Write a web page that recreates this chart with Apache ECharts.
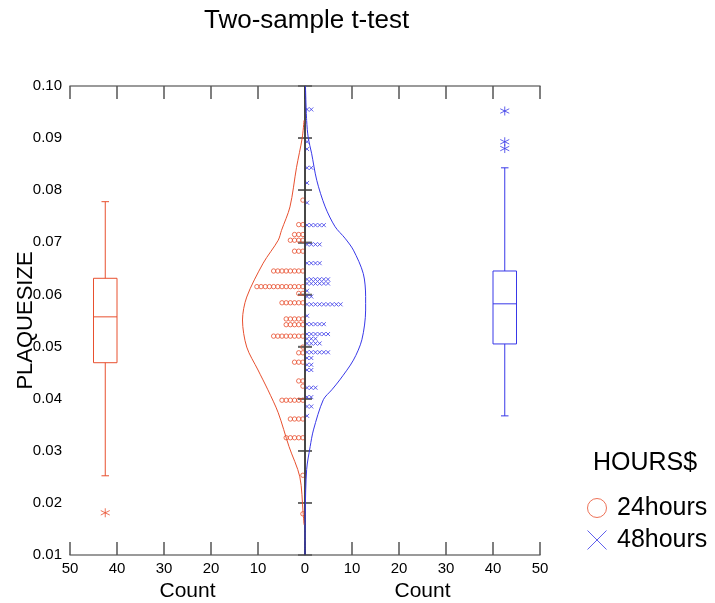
<!DOCTYPE html>
<html>
<head>
<meta charset="utf-8">
<title>Two-sample t-test</title>
<script src="https://cdn.jsdelivr.net/npm/echarts@6/dist/echarts.min.js"></script>
<style>
    html, body { margin: 0; padding: 0; background: #fff; }
    #main { width: 715px; height: 603px; }
</style>
</head>
<body>
<div id="main"></div>
<script>
// dot rows: [plaque size, number of dots]
var rows24 = [
    [0.0781, 1], [0.0734, 2], [0.0715, 3], [0.0704, 4], [0.0683, 3],
    [0.0645, 8], [0.0615, 12], [0.0602, 2], [0.0584, 6], [0.0553, 5],
    [0.0542, 5], [0.0520, 8], [0.0499, 1], [0.0488, 2], [0.0470, 3],
    [0.0434, 2], [0.0424, 1], [0.0397, 6], [0.0361, 4], [0.0325, 5],
    [0.0253, 1], [0.0179, 1]
];
var rows48 = [
    [0.0955, 2], [0.0893, 1], [0.0879, 1], [0.0843, 2], [0.0814, 1],
    [0.0776, 1], [0.0733, 5], [0.0696, 4], [0.0660, 4], [0.0629, 6],
    [0.0621, 6], [0.0607, 1], [0.0596, 2], [0.0581, 9], [0.0559, 1],
    [0.0543, 5], [0.0524, 6], [0.0515, 3], [0.0506, 4], [0.0489, 6],
    [0.0478, 2], [0.0465, 2], [0.0455, 2], [0.0421, 3], [0.0403, 2],
    [0.0385, 2], [0.0367, 1]
];
// density curves: [plaque size, count]
var curve24 = [
    [0.0934, 0.2], [0.0900, 0.6], [0.0844, 1.8], [0.0768, 3.2], [0.0723, 5.0],
    [0.0704, 5.7], [0.0660, 8.9], [0.0595, 12.4], [0.0551, 13.3], [0.0499, 12.4],
    [0.0455, 10.0], [0.0417, 7.9], [0.0373, 5.7], [0.0308, 3.4], [0.0250, 1.1],
    [0.0181, 0.4], [0.0158, 0.2]
];
var curve48 = [
    [0.1000, 0.1], [0.0934, 0.35], [0.0900, 0.7], [0.0871, 1.4], [0.0819, 2.5],
    [0.0768, 4.3], [0.0730, 6.4], [0.0708, 8.5], [0.0685, 10.3], [0.0640, 12.4],
    [0.0596, 12.9], [0.0570, 12.9], [0.0513, 12.1], [0.0474, 10.3], [0.0436, 7.4],
    [0.0417, 5.7], [0.0398, 3.9], [0.0340, 1.8], [0.0308, 1.1], [0.0264, 0.35],
    [0.0181, 0.05], [0.0101, 0]
];
// box plots: [min, q1, median, q3, max] and outside values
var box24 = [0.0252, 0.0469, 0.0557, 0.0631, 0.0778];
var box48 = [0.0367, 0.0505, 0.0582, 0.0645, 0.0843];
var out24 = [0.0181];
var out48 = [0.0952, 0.0893, 0.0880];
var boxPos = 42.5;
var centerTicks = [0.02, 0.03, 0.04, 0.05, 0.06, 0.07, 0.08, 0.09];

var RED = '#e8502f', BLUE = '#3838e8';
var FONT = '"Liberation Sans", Arial, sans-serif';
var dotW = 0.89;
var STAR = 'path://M5,0L5,10M0.7,2.5L9.3,7.5M0.7,7.5L9.3,2.5';
var CROSS = 'path://M0,0L10,10M10,0L0,10';

function each(arr, fn) { for (var i = 0; i < arr.length; i++) fn(arr[i], i); }

function dots(rows, side) {
    var out = [];
    each(rows, function (r) {
        for (var i = 0; i < r[1]; i++) {
            out.push([side * (i + 0.5) * dotW, r[0]]);
        }
    });
    return out;
}

function boxRender(color) {
    return function (params, api) {
        var x = api.value(0);
        var l = api.coord([x - 2.5, api.value(2)])[0];
        var r = api.coord([x + 2.5, api.value(2)])[0];
        var cl = api.coord([x - 0.8, 0])[0];
        var cr = api.coord([x + 0.8, 0])[0];
        var cx = api.coord([x, 0])[0];
        var yMin = api.coord([x, api.value(1)])[1];
        var yQ1 = api.coord([x, api.value(2)])[1];
        var yMed = api.coord([x, api.value(3)])[1];
        var yQ3 = api.coord([x, api.value(4)])[1];
        var yMax = api.coord([x, api.value(5)])[1];
        var st = {stroke: color, lineWidth: 1, fill: null};
        return {
            type: 'group',
            children: [
                {type: 'rect', shape: {x: l, y: yQ3, width: r - l, height: yQ1 - yQ3}, style: st},
                {type: 'line', shape: {x1: l, y1: yMed, x2: r, y2: yMed}, style: st},
                {type: 'line', shape: {x1: cx, y1: yQ3, x2: cx, y2: yMax}, style: st},
                {type: 'line', shape: {x1: cx, y1: yQ1, x2: cx, y2: yMin}, style: st},
                {type: 'line', shape: {x1: cl, y1: yMax, x2: cr, y2: yMax}, style: st},
                {type: 'line', shape: {x1: cl, y1: yMin, x2: cr, y2: yMin}, style: st}
            ]
        };
    };
}

var axisLine = {show: true, lineStyle: {color: '#7a7a7a', width: 1.5}};
var xTick = {show: true, inside: true, length: 13, lineStyle: {color: '#555', width: 1.5}};
var yTick = {show: true, inside: true, length: 7, lineStyle: {color: '#555', width: 1.5}};

var myChart = echarts.init(document.getElementById('main'), null, {renderer: 'canvas'});

var option = {
    backgroundColor: '#fff',
    animation: false,
    title: {
        text: 'Two-sample t-test',
        left: 199, top: 3,
        textStyle: {fontSize: 26, fontWeight: 'normal', fontFamily: FONT, color: '#000'}
    },
    legend: {
        orient: 'vertical', left: 582, top: 490,
        itemWidth: 30, itemHeight: 19, itemGap: 6,
        textStyle: {fontSize: 25, lineHeight: 26, fontFamily: FONT, color: '#000'},
        data: [
            {name: '24hours', icon: 'circle', itemStyle: {color: 'transparent', borderColor: RED, borderWidth: 1}},
            {name: '48hours', icon: CROSS, itemStyle: {color: 'transparent', borderColor: BLUE, borderWidth: 1}}
        ]
    },
    grid: {left: 70, right: 175, top: 86, bottom: 48, containLabel: false, outerBoundsMode: 'none'},
    xAxis: [
        {
            type: 'value', min: -50, max: 50, interval: 10, position: 'bottom',
            axisLine: axisLine, axisTick: xTick, splitLine: {show: false},
            axisLabel: {
                fontSize: 15, fontFamily: FONT, color: '#000', margin: 6,
                formatter: function (v) { return Math.abs(v); }
            }
        },
        {
            type: 'value', min: -50, max: 50, interval: 10, position: 'top',
            axisLine: axisLine, axisTick: xTick, splitLine: {show: false},
            axisLabel: {show: false}
        }
    ],
    yAxis: [
        {
            type: 'value', min: 0.01, max: 0.10, interval: 0.01, position: 'left',
            axisLine: axisLine, axisTick: yTick, splitLine: {show: false},
            name: 'PLAQUESIZE', nameLocation: 'middle', nameGap: 33, nameMoveOverlap: false,
            nameTextStyle: {fontSize: 22, fontFamily: FONT, color: '#000'},
            axisLabel: {
                fontSize: 15, fontFamily: FONT, color: '#000', margin: 8,
                formatter: function (v) { return v.toFixed(2); }
            }
        },
        {
            type: 'value', min: 0.01, max: 0.10, interval: 0.01, position: 'right',
            axisLine: axisLine, axisTick: yTick, splitLine: {show: false},
            axisLabel: {show: false}
        }
    ],
    series: [
        {
            name: 'center', type: 'line', symbol: 'none', silent: true,
            lineStyle: {color: '#333', width: 1.5},
            data: [[0, 0.01], [0, 0.10]]
        },
        {
            name: 'centerTicks', type: 'custom', silent: true,
            data: centerTicks.map(function (v) { return [0, v]; }),
            renderItem: function (params, api) {
                var p = api.coord([0, api.value(1)]);
                return {
                    type: 'line',
                    shape: {x1: p[0] - 7, y1: p[1], x2: p[0] + 7, y2: p[1]},
                    style: {stroke: '#666', lineWidth: 1.5}
                };
            }
        },
        {
            name: 'curve24', type: 'line', symbol: 'none', smooth: 0.3, silent: true,
            lineStyle: {color: RED, width: 1},
            data: curve24.map(function (d) { return [-d[1], d[0]]; })
        },
        {
            name: 'curve48', type: 'line', symbol: 'none', smooth: 0.3, silent: true,
            lineStyle: {color: BLUE, width: 1},
            data: curve48.map(function (d) { return [d[1], d[0]]; })
        },
        {
            name: '24hours', type: 'scatter', symbol: 'circle', symbolSize: 4.4,
            itemStyle: {color: 'transparent', borderColor: RED, borderWidth: 1},
            data: dots(rows24, -1)
        },
        {
            name: '48hours', type: 'scatter', symbol: CROSS, symbolSize: 4,
            itemStyle: {color: 'transparent', borderColor: BLUE, borderWidth: 1},
            data: dots(rows48, 1)
        },
        {
            name: 'box24', type: 'custom', silent: true,
            encode: {x: 0, y: [1, 2, 3, 4, 5]},
            data: [[-boxPos].concat(box24)],
            renderItem: boxRender(RED)
        },
        {
            name: 'box48', type: 'custom', silent: true,
            encode: {x: 0, y: [1, 2, 3, 4, 5]},
            data: [[boxPos].concat(box48)],
            renderItem: boxRender(BLUE)
        },
        {
            name: 'out24', type: 'scatter', symbol: STAR, symbolSize: 9,
            itemStyle: {color: 'transparent', borderColor: RED, borderWidth: 1},
            data: out24.map(function (v) { return [-boxPos, v]; })
        },
        {
            name: 'out48', type: 'scatter', symbol: STAR, symbolSize: 9,
            itemStyle: {color: 'transparent', borderColor: BLUE, borderWidth: 1},
            data: out48.map(function (v) { return [boxPos, v]; })
        }
    ]
};
myChart.setOption(option);

// labels under each half of the count axis, and the legend heading
var lx = myChart.convertToPixel({xAxisIndex: 0}, -25);
var rx = myChart.convertToPixel({xAxisIndex: 0}, 25);
myChart.setOption({
    graphic: [
        {type: 'text', x: lx, y: 591, style: {text: 'Count', font: '21px ' + FONT, fill: '#000', align: 'center', verticalAlign: 'middle', textAlign: 'center', textVerticalAlign: 'middle'}},
        {type: 'text', x: rx, y: 591, style: {text: 'Count', font: '21px ' + FONT, fill: '#000', align: 'center', verticalAlign: 'middle', textAlign: 'center', textVerticalAlign: 'middle'}},
        {type: 'text', left: 593, top: 451, style: {text: 'HOURS$', font: '25px ' + FONT, fill: '#000'}}
    ]
});
</script>
</body>
</html>
